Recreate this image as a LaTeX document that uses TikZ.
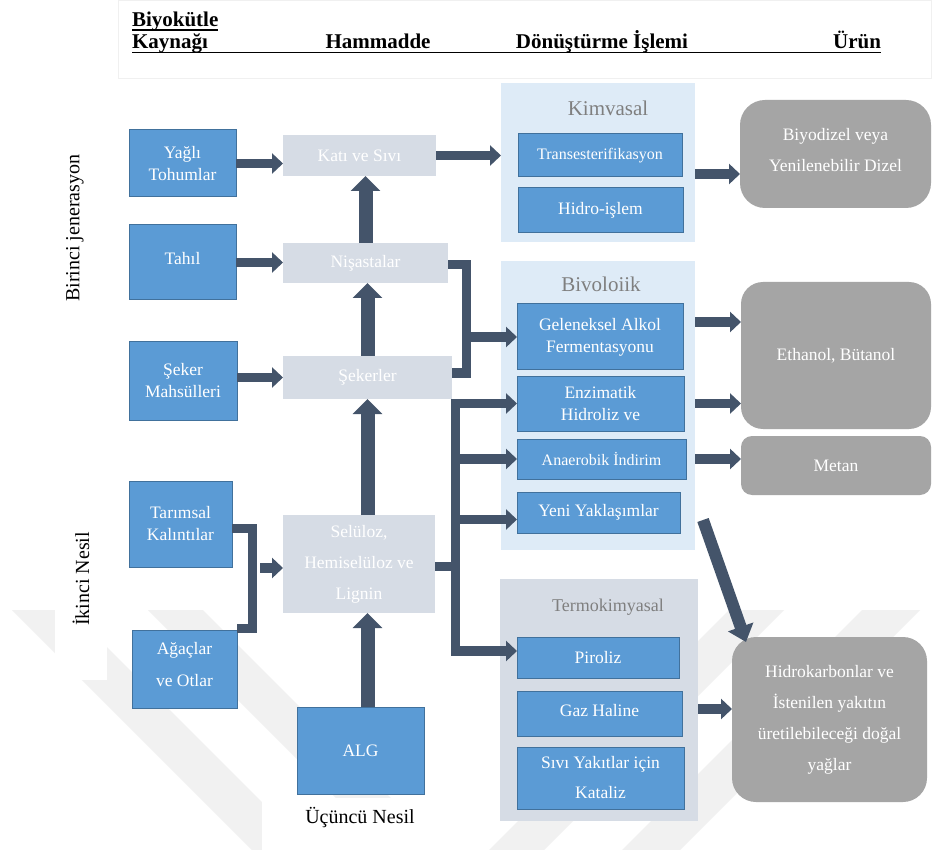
\documentclass[tikz,border=0pt]{standalone}
\usepackage{fontspec}
\setmainfont{Liberation Serif}
\usetikzlibrary{arrows.meta}
\definecolor{srcblue}{HTML}{5B9BD5}
\definecolor{srcline}{HTML}{41719C}
\definecolor{rawgrey}{HTML}{D6DCE5}
\definecolor{panelblue}{HTML}{DEEBF7}
\definecolor{panelgrey}{HTML}{D6DCE5}
\definecolor{prodgrey}{HTML}{A5A5A5}
\definecolor{arrowc}{HTML}{44546A}
\definecolor{titlegrey}{HTML}{7F7F7F}
\definecolor{wmark}{HTML}{F1F1F1}
\begin{document}
\begin{tikzpicture}[x=1pt,y=-1pt,
 every node/.style={inner sep=0pt, outer sep=0pt, align=center},
 sz/.style 2 args={minimum width=#1pt, minimum height=#2pt},
 srcbox/.style={rectangle, fill=srcblue, draw=srcline, line width=1pt, text=white, font=\fontsize{17.5}{22}\selectfont},
 srctext/.style={text=white, font=\fontsize{17.5}{22}\selectfont},
 rawbox/.style={rectangle, fill=rawgrey, text=white, font=\fontsize{17.5}{31}\selectfont},
 panel/.style={rectangle, fill=panelblue},
 prodbox/.style={rectangle, rounded corners=22pt, fill=prodgrey, text=white, font=\fontsize{17.5}{31}\selectfont},
 prodtext/.style={text=white, font=\fontsize{17.5}{31}\selectfont},
 ptitle/.style={text=titlegrey, font=\fontsize{21}{25}\selectfont, anchor=base},
 hdr/.style={font=\fontsize{21}{25}\selectfont\bfseries},
 sidelabel/.style={rotate=90, font=\fontsize{20}{24}\selectfont},
 harrow/.style={draw=arrowc, line width=9.5pt, -{Triangle[width=20pt,length=11pt]}},
 varrow/.style={draw=arrowc, line width=14pt, -{Triangle[width=29pt,length=15pt]}},
 darrow/.style={draw=arrowc, line width=12pt, -{Triangle[width=26pt,length=16pt]}},
 barline/.style={draw=arrowc, line width=9pt, line join=miter},
]
\useasboundingbox (0,0) rectangle (932,850);
\fill[white] (0,0) rectangle (932,850);

% faint watermark
\fill[wmark] (12,610) -- (70,610) -- (310,850) -- (252,850) -- cycle;
\fill[wmark] (148,610) -- (203,610) -- (443,850) -- (388,850) -- cycle;
\fill[wmark] (729,610) -- (784,610) -- (544,850) -- (489,850) -- cycle;
\fill[wmark] (862,610) -- (920,610) -- (680,850) -- (622,850) -- cycle;
\fill[white] (55,478) rectangle (107,680);
\fill[white] (262,798) rectangle (462,850);

% header
\draw[draw=black!6, line width=0.8pt] (118,0) rectangle (931,78);
\node[hdr, anchor=base west] (hbiy) at (132,27) {Biyokütle};
\node[hdr, anchor=base west] (hkay) at (132,49) {Kaynağı};
\node[hdr, anchor=base] (hham) at (378,49) {Hammadde};
\node[hdr, anchor=base] (hdon) at (602,49) {Dönüştürme İşlemi};
\node[hdr, anchor=base east] (huru) at (881,49) {Ürün};
\draw[line width=1.5pt] ([yshift=-3.5pt]hkay.base west) -- ([yshift=-3.5pt]huru.base east);
\draw[line width=1.5pt] ([yshift=-3pt]hbiy.base west) -- ([yshift=-3pt]hbiy.base east);

% side labels
\node[sidelabel] (gen1) at (75,228) {Birinci jenerasyon};
\node[sidelabel] (gen2) at (81,579) {İkinci Nesil};
\node[font=\fontsize{20}{24}\selectfont] (gen3) at (360,818) {Üçüncü Nesil};

% sources
\node[srcbox, sz={107}{67}] (yagli) at (182.5,163.5) {Yağlı\\Tohumlar};
\node[srcbox, sz={107}{75}] (tahil) at (182.5,262.5) {};
\node[srctext] (tahilT) at ([yshift=4pt]tahil.center) {Tahıl};
\node[srcbox, sz={108}{78}] (seker) at (183,381) {Şeker\\Mahsülleri};
\node[srcbox, sz={103}{86}] (tarim) at (180.5,524) {Tarımsal\\Kalıntılar};
\node[srcbox, sz={105}{78}] (agac) at (184.5,669) {};
\node[srctext] (agacT) at ([yshift=4pt]agac.center) {Ağaçlar\\[10pt]ve Otlar};
\node[srcbox, sz={127}{87}] (alg) at (360.5,750.5) {ALG};

% raw materials
\node[rawbox, sz={153}{41}] (kati) at (359.5,155.5) {Katı ve Sıvı};
\node[rawbox, sz={165}{40}] (nisasta) at (365.5,263) {Nişastalar};
\node[rawbox, sz={169}{43}] (sekerler) at (367.5,377.5) {Şekerler};
\node[rawbox, sz={152}{98}] (selu) at (359,564) {Selüloz,\\Hemiselüloz ve\\Lignin};

% panels
\node[panel, sz={194}{159}] (kim) at (598,162.5) {};
\node[ptitle] (kimT) at (608,116) {Kimvasal};
\node[panel, sz={194}{289}] (biy) at (598,405.5) {};
\node[ptitle] (biyT) at (601,292) {Bivoloiik};
\node[panel, fill=panelgrey, sz={198}{242}] (ter) at (599,700) {};
\node[ptitle, font=\fontsize{18}{22}\selectfont] (terT) at (608,611) {Termokimyasal};

% processes
\node[srcbox, font=\fontsize{16}{20}\selectfont, sz={164}{43}] (trans) at (600,155.5) {Transesterifikasyon};
\node[srcbox, sz={165}{45}] (hidro) at (600.5,210.5) {Hidro-işlem};
\node[srcbox, sz={166}{66}] (gelen) at (600,337) {Geleneksel Alkol\\Fermentasyonu};
\node[srcbox, sz={167}{55}] (enzim) at (600.5,403.5) {Enzimatik\\Hidroliz ve};
\node[srcbox, font=\fontsize{16}{20}\selectfont, sz={169}{40}] (anaer) at (601.5,459) {Anaerobik İndirim};
\node[srcbox, sz={163}{41}] (yeni) at (598.5,512.5) {Yeni Yaklaşımlar};
\node[srcbox, sz={162}{41}] (piro) at (598,657.5) {Piroliz};
\node[srcbox, sz={165}{45}] (gaz) at (599.5,713.5) {};
\node[srctext] (gazT) at ([yshift=3pt]gaz.center) {Gaz Haline};
\node[srcbox, sz={167}{62}] (sivi) at (600.5,778) {Sıvı Yakıtlar için\\[8pt]Kataliz};

% products
\node[prodbox, rounded corners=25pt, sz={191}{108}] (pbiyo) at (835.5,154) {};
\node[prodtext] (pbiyoT) at ([yshift=4pt]pbiyo.center) {Biyodizel veya\\Yenilenebilir Dizel};
\node[prodbox, sz={190}{147}] (peth) at (836,355.5) {Ethanol, Bütanol};
\node[prodbox, rounded corners=11pt, sz={190}{59}] (pmet) at (836,465.5) {Metan};
\node[prodbox, rounded corners=24pt, sz={195}{165}] (phid) at (829.5,719.5) {Hidrokarbonlar ve\\İstenilen yakıtın\\üretilebileceği doğal\\yağlar};

% source -> raw
\draw[harrow] (yagli.east) -- (yagli.east -| kati.west);
\draw[harrow] (tahil.east) -- (tahil.east -| nisasta.west);
\draw[harrow] (sekerler.west -| seker.east) -- (sekerler.west);

% vertical chain
\draw[varrow] (nisasta.north) -- (nisasta.north |- kati.south);
\draw[varrow] (sekerler.north) -- (sekerler.north |- nisasta.south);
\draw[varrow] (selu.north -| sekerler.north) -- (sekerler.south);
\draw[varrow] (alg.north -| sekerler.north) -- (selu.south -| sekerler.north);

% raw -> chemical
\draw[harrow] (kati.east) -- (kati.east -| kim.west);

% residues bracket
\coordinate (tb1) at (252,528);
\coordinate (tb2) at (252,628);
\draw[barline] (tb1 -| tarim.east) -- (tb1) -- (tb2) -- (tb2 -| agac.east);
\coordinate (tsel) at ([yshift=-4pt]selu.west);
\coordinate (tst) at ([xshift=8pt]tb1);
\draw[harrow] (tst |- tsel) -- (tsel);

% starch / sugar bracket
\coordinate (nb1) at (466,265);
\coordinate (nb2) at (466,373);
\draw[barline] (nb1 -| nisasta.east) -- (nb1) -- (nb2) -- (nb2 -| sekerler.east);
\draw[harrow] (nb1 |- gelen.west) -- (gelen.west);

% cellulose junction
\coordinate (jc) at (455,566);
\coordinate (jp) at (455,651);
\coordinate (yA) at ([yshift=-7pt]yeni.west);
\draw[barline] (selu.east |- jc) -- (jc);
\draw[barline, line cap=rect] (jc |- enzim.west) -- (jp);
\draw[harrow] (jc |- enzim.west) -- (enzim.west);
\draw[harrow] (jc |- anaer.west) -- (anaer.west);
\draw[harrow] (jc |- yA) -- (yA);
\draw[harrow] (jp) -- (jp -| piro.west);

% process -> products
\coordinate (k1) at ([yshift=-11.5pt]kim.east);
\draw[harrow] (k1) -- (k1 -| pbiyo.west);
\coordinate (g1) at ([yshift=15pt]gelen.east);
\draw[harrow] (g1 -| biy.east) -- (g1 -| peth.west);
\draw[harrow] (enzim.east -| biy.east) -- (enzim.east -| peth.west);
\draw[harrow] (anaer.east -| biy.east) -- (anaer.east -| pmet.west);
\coordinate (t1) at ([yshift=-9pt]ter.east);
\draw[harrow] (t1) -- (t1 -| phid.west);
\coordinate (d0) at ([xshift=23pt,yshift=-7.5pt]yeni.east);
\coordinate (d1) at ([xshift=14pt,yshift=-5pt]phid.north west);
\draw[darrow] (d0) -- (d1);
\end{tikzpicture}
\end{document}
